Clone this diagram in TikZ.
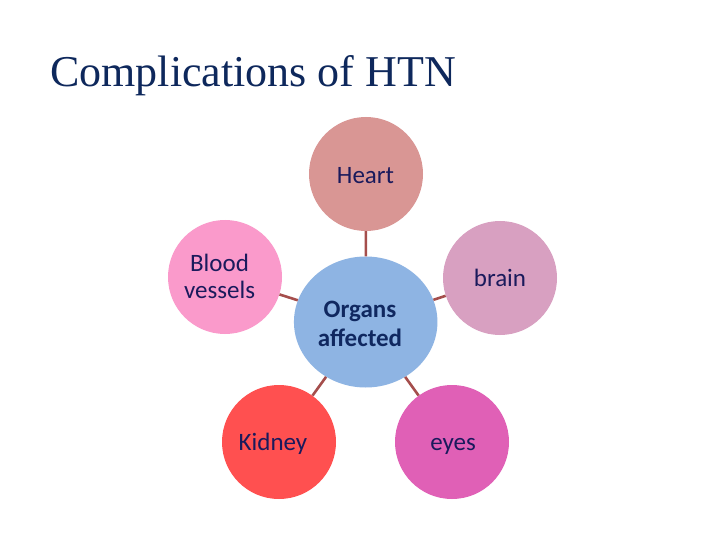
\documentclass[tikz,border=0pt]{standalone}
\usepackage{fontspec}
\setmainfont{Carlito}
\newfontfamily\titlefont{Liberation Serif}
\usetikzlibrary{shapes.geometric}
\definecolor{heartc}{RGB}{217,150,148}
\definecolor{bloodc}{RGB}{250,154,203}
\definecolor{brainc}{RGB}{216,160,193}
\definecolor{organc}{RGB}{142,180,227}
\definecolor{kidneyc}{RGB}{255,80,80}
\definecolor{eyesc}{RGB}{224,96,182}
\definecolor{linkc}{RGB}{165,78,76}
\definecolor{txtc}{RGB}{26,26,92}
\definecolor{orgtxt}{RGB}{16,40,96}
\definecolor{titlec}{RGB}{14,40,92}
\tikzset{
  organ/.style={circle, minimum size=114pt, inner sep=0pt, draw=none},
  lbl/.style={anchor=base, inner sep=0pt, text=txtc, font=\fontsize{25}{27}\selectfont, align=center},
  link/.style={draw=linkc, line width=2.6pt}
}
\begin{document}
\begin{tikzpicture}[x=1pt,y=-1pt]
\useasboundingbox (0,0) rectangle (720,540);
\fill[white] (0,0) rectangle (720,540);
\node[anchor=base west, inner sep=0pt, text=titlec, font=\titlefont\fontsize{44}{50}\selectfont] (title) at (50,87) {Complications of HTN};
% circles
\node[organ, fill=heartc] (heart) at (366,174) {};
\node[organ, fill=bloodc] (blood) at (225,277) {};
\node[organ, fill=brainc] (brain) at (500,278) {};
\node[organ, fill=kidneyc] (kidney) at (279,442) {};
\node[organ, fill=eyesc] (eyes) at (452,442) {};
\node[ellipse, minimum width=143.5pt, minimum height=131pt, inner sep=0pt, fill=organc] (org) at (365.7,322) {};
% connectors
\draw[link] (heart) -- (org);
\draw[link] (blood) -- (org);
\draw[link] (brain) -- (org);
\draw[link] (kidney) -- (org);
\draw[link] (eyes) -- (org);
% labels
\node[lbl] (theart) at (365.5,183.5) {Heart};
\node[lbl, anchor=north] (tblood) at (219.5,254) {Blood\\vessels};
\node[lbl] (tbrain) at (500,286) {brain};
\node[lbl] (tkidney) at (273,450) {Kidney};
\node[lbl] (teyes) at (453,450) {eyes};
\node[lbl, anchor=north, text=orgtxt, font=\bfseries\fontsize{25}{28.5}\selectfont] (torg) at (360,301) {Organs\\affected};
\end{tikzpicture}
\end{document}
